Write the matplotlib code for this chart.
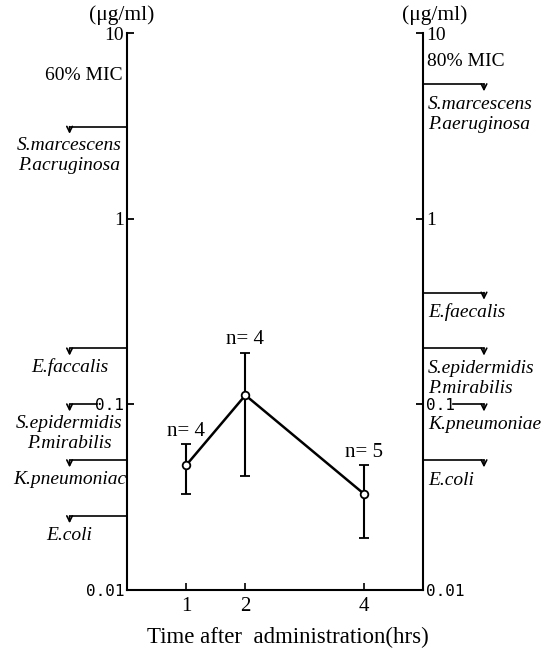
import matplotlib
matplotlib.use("Agg")
import matplotlib.pyplot as plt

plt.rcParams['font.family'] = ['Liberation Serif', 'DejaVu Serif']

# serum levels (mean with range)
hours = [1, 2, 4]
conc = [0.047, 0.112, 0.033]
conc_hi = [0.061, 0.19, 0.047]
conc_lo = [0.033, 0.041, 0.019]
n_labels = ["n= 4", "n= 4", "n= 5"]

# MIC levels, left = 60% MIC, right = 80% MIC
left_mic = [3.13, 0.2, 0.1, 0.05, 0.025]
left_names = [["S.marcescens", "P.acruginosa"], ["E.faccalis"],
              ["S.epidermidis", "P.mirabilis"], ["K.pneumoniac"], ["E.coli"]]
right_mic = [5.3, 0.4, 0.2, 0.1, 0.05]
right_names = [["S.marcescens", "P.aeruginosa"], ["E.faecalis"],
               ["S.epidermidis", "P.mirabilis"], ["K.pneumoniae"], ["E.coli"]]

yticks = [0.01, 0.1, 1, 10]
yticklabels = ["0.01", "0.1", "1", "10"]

fig = plt.figure(figsize=(5.55, 6.51), dpi=100)
ax = fig.add_axes([127/555, 1 - 590/651, 296/555, 557/651])

ax.set_yscale('log')
ax.set_ylim(0.01, 10)
ax.set_xlim(0, 5)
ax.spines['top'].set_visible(False)
for s in ['left', 'right', 'bottom']:
    ax.spines[s].set_linewidth(1.5)

ax.set_yticks(yticks)
ax.set_yticklabels(yticklabels)
ax.minorticks_off()
ax.tick_params(axis='y', which='both', direction='in', left=True, right=True,
               labelleft=True, labelright=True, length=5, width=1.3,
               labelsize=14, pad=2)
ax.set_xticks(hours)
ax.set_xticklabels([str(h) for h in hours])
ax.tick_params(axis='x', direction='in', length=5, width=1.2, labelsize=15, pad=5)
for lab in ax.get_yticklabels():
    if lab.get_text() in ("0.01", "0.1"):
        lab.set_family('DejaVu Sans Mono')
        lab.set_fontsize(11.5)

# data
yerr = [[c - l for c, l in zip(conc, conc_lo)], [h - c for c, h in zip(conc, conc_hi)]]
ax.errorbar(hours, conc, yerr=yerr, color='black', lw=1.8, elinewidth=1.5,
            capsize=3.5, capthick=1.5, marker='o', ms=5.5, mfc='white', mec='black',
            mew=1.3, zorder=3)
for h, top, lab in zip(hours, conc_hi, n_labels):
    ax.annotate(lab, (h, top), xytext=(0, 13), textcoords='offset pixels',
                ha='center', va='center', fontsize=15)

# MIC arrows, left side
tip_l = -0.97
for v, names in zip(left_mic, left_names):
    x0 = -0.5 if v == 0.1 else 0
    ax.plot([x0, tip_l], [v, v], color='black', lw=1.2, clip_on=False)
    ax.annotate('', xy=(tip_l, v * 0.915), xytext=(tip_l, v),
                arrowprops=dict(arrowstyle='->', lw=1.2, color='black',
                                shrinkA=0, shrinkB=0), annotation_clip=False)
    for i, nm in enumerate(names):
        ax.annotate(nm, (tip_l, v), xytext=(0, -19 - 20*i), textcoords='offset pixels',
                    ha='center', va='center', fontsize=14, style='italic',
                    annotation_clip=False)

# MIC arrows, right side
tip_r = 6.03
for v, names in zip(right_mic, right_names):
    x0 = 5.5 if v == 0.1 else 5
    ax.plot([x0, tip_r], [v, v], color='black', lw=1.2, clip_on=False)
    ax.annotate('', xy=(tip_r, v * 0.915), xytext=(tip_r, v),
                arrowprops=dict(arrowstyle='->', lw=1.2, color='black',
                                shrinkA=0, shrinkB=0), annotation_clip=False)
    for i, nm in enumerate(names):
        ax.annotate(nm, (5, v), xytext=(5, -20 - 20*i), textcoords='offset pixels',
                    ha='left', va='center', fontsize=14, style='italic',
                    annotation_clip=False)

fig.text(123/555, 1 - 76/651, "60% MIC", ha='right', va='center', fontsize=14)
fig.text(427/555, 1 - 61/651, "80% MIC", ha='left', va='center', fontsize=14)
fig.text(122/555, 1 - 15/651, "(μg/ml)", ha='center', va='center', fontsize=15.5)
fig.text(435/555, 1 - 15/651, "(μg/ml)", ha='center', va='center', fontsize=15.5)
fig.text(288/555, 1 - 637/651, "Time after  administration(hrs)", ha='center',
         va='center', fontsize=16.5)

fig.savefig("out.png", dpi=100)
